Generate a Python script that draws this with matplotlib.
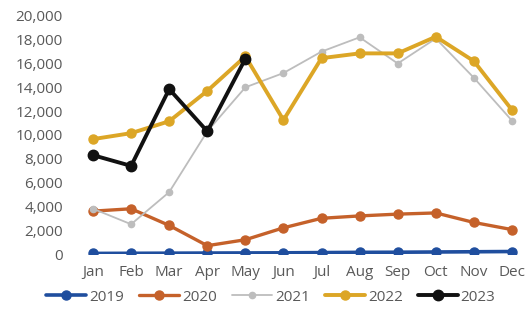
import matplotlib.pyplot as plt

months = ["Jan", "Feb", "Mar", "Apr", "May", "Jun", "Jul", "Aug", "Sep", "Oct", "Nov", "Dec"]

sales_2019 = [50, 60, 70, 80, 90, 100, 120, 140, 150, 170, 190, 210]
sales_2020 = [3600, 3800, 2400, 700, 1200, 2200, 3000, 3200, 3350, 3450, 2650, 2050]
sales_2021 = [3800, 2500, 5200, 10300, 14000, 15200, 17000, 18200, 16000, 18100, 14800, 11200]
sales_2022 = [9650, 10150, 11150, 13700, 16600, 11250, 16450, 16850, 16850, 18250, 16200, 12100]
sales_2023 = [8300, 7400, 13850, 10300, 16400]

series = [
    ("2019", sales_2019, "#1f4e9e", 2.6, 6.5),
    ("2020", sales_2020, "#c5612a", 2.4, 6.5),
    ("2021", sales_2021, "#bdbdbd", 1.3, 4.5),
    ("2022", sales_2022, "#dca626", 2.8, 6.5),
    ("2023", sales_2023, "#111111", 2.8, 7.5),
]

plt.rcParams["font.family"] = ["Open Sans", "DejaVu Sans"]

fig = plt.figure(figsize=(5.26, 3.24), dpi=100)
ax = fig.add_axes([74 / 526, 0.216, 457 / 526, 0.735])

for name, vals, color, lw, ms in series:
    ax.plot(range(len(vals)), vals, color=color, lw=lw, marker="o", ms=ms,
            label=name, solid_capstyle="round")

ax.set_xlim(-0.5, 11.5)
ax.set_ylim(0, 20000)
ax.set_yticks(range(0, 20001, 2000))
ax.set_yticklabels([f"{v:,}" for v in range(0, 20001, 2000)])
ax.set_xticks(range(12))
ax.set_xticklabels(months)
ax.tick_params(length=0, labelsize=11, colors="#595959", pad=8)
for s in ax.spines.values():
    s.set_visible(False)

fig.legend(loc="center", bbox_to_anchor=(0.515, 0.083), ncol=5, frameon=False,
           fontsize=11, labelcolor="#595959", handlelength=2.6,
           handletextpad=0.2, columnspacing=1.0)

fig.savefig("out.png", dpi=100)
